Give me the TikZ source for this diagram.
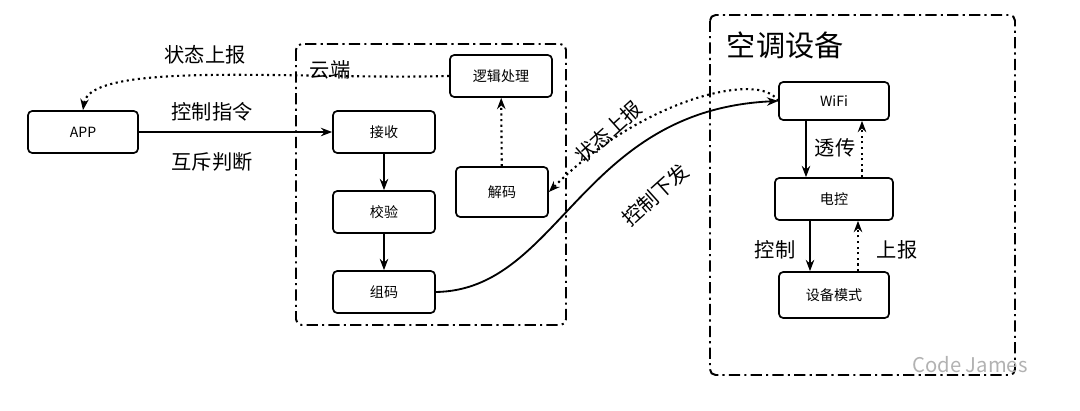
\documentclass[tikz,border=0pt]{standalone}
\usepackage{fontspec}
\setmainfont{Noto Sans CJK SC}
\usetikzlibrary{arrows.meta,positioning,calc}

\begin{document}
\begin{tikzpicture}[x=0.025cm,y=-0.025cm,
    box/.style={draw, line width=1.2pt, rounded corners=3pt, minimum height=1.05cm, font=\normalsize},
    frame/.style={draw, line width=1.4pt, dash pattern=on 8pt off 3pt on 1.5pt off 3pt, rounded corners=4pt},
    arr/.style={-{Stealth[length=8pt]}, line width=1.3pt},
    dot/.style={-{Stealth[length=8pt]}, line width=1.5pt, dash pattern=on 1.5pt off 2.5pt}]
        \useasboundingbox (0,0) rectangle (1080,410);

        % frames
        \draw [frame] (296,44) rectangle (566,325);
        \draw [frame] (710,15) rectangle (1015,375);
        \node[anchor=west] (cloudlbl) at (305,70) {\Large 云端};
        \node[anchor=west] (devlbl) at (722,45) {\huge 空调设备};

        % nodes
        \node[box, minimum width=2.75cm] (app) at (83,132) {APP};
        \node[box, minimum width=2.55cm] (logic) at (501,76) {逻辑处理};
        \node[box, minimum width=2.55cm] (recv) at (384,132) {接收};
        \node[box, minimum width=2.55cm] (check) at (384,212) {校验};
        \node[box, minimum width=2.55cm] (pack) at (384,292) {组码};
        \node[box, minimum width=2.3cm, minimum height=1.25cm] (dec) at (502,192) {解码};
        \node[box, minimum width=2.75cm, minimum height=0.95cm] (wifi) at (834,101) {WiFi};
        \node[box, minimum width=2.95cm] (ctrl) at (834,199) {电控};
        \node[box, minimum width=2.75cm, minimum height=1.15cm] (mode) at (834,295) {设备模式};

        % cloud side
        \draw [arr] (app) -- (recv);
        \node (cmd) at (212,112) {\Large 控制指令};
        \node (mutex) at (212,162) {\Large 互斥判断};
        \draw [dot] (logic.west) .. controls (300,80) and (90,60) .. (app.north);
        \node (up1) at (205,55) {\Large 状态上报};
        \draw [arr] (recv) -- (check);
        \draw [arr] (check) -- (pack);
        \draw [dot] (dec) -- (logic);

        % links
        \draw [arr] (pack.east) .. controls (560,290) and (580,110) .. (wifi.west);
        \node[rotate=42] (down) at (655,195) {\Large 控制下发};
        \draw [dot] (wifi.west) .. controls (760,70) and (640,100) .. (dec.east);
        \node[rotate=42] (up2) at (608,132) {\Large 状态上报};

        % device side
        \draw [arr] ($(wifi.south)+(-28,0)$) -- ($(ctrl.north)+(-28,0)$);
        \draw [dot] ($(ctrl.north)+(28,0)$) -- ($(wifi.south)+(28,0)$);
        \node (pass) at (835,148) {\Large 透传};
        \draw [arr] ($(ctrl.south)+(-24,0)$) -- ($(mode.north)+(-24,0)$);
        \draw [dot] ($(mode.north)+(24,0)$) -- ($(ctrl.south)+(24,0)$);
        \node (ctl) at (775,250) {\Large 控制};
        \node (rep) at (897,250) {\Large 上报};

        \node[text=gray!60] (mark) at (970,365) {\Large Code James};
\end{tikzpicture}
\end{document}
